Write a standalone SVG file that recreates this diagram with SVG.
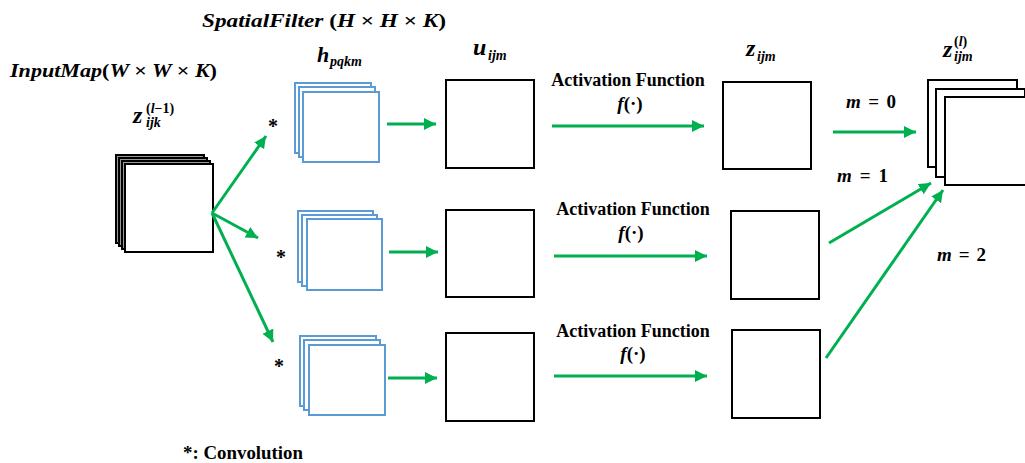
<svg xmlns="http://www.w3.org/2000/svg" width="1025" height="463" viewBox="0 0 1025 463">
<style>
.blk{fill:#fff;stroke:#000;stroke-width:2}
.bk{fill:#999;stroke:#000;stroke-width:2}
.blu{fill:#fff;stroke:#5B9BD5;stroke-width:2}
.arr{stroke:#00B050;stroke-width:3;fill:none;marker-end:url(#ah)}
.t{font-family:"Liberation Serif","Times New Roman",serif;font-weight:bold;fill:#000}
.mi{font-family:"Liberation Serif","Times New Roman",serif;font-weight:bold;font-style:italic;fill:#000}
.up{font-style:normal}
</style>
<defs>
<marker id="ah" markerUnits="userSpaceOnUse" markerWidth="14" markerHeight="14" refX="12" refY="6" orient="auto">
<path d="M0,0 L12,6 L0,12 z" fill="#00B050"/>
</marker>
</defs>
<rect width="1025" height="463" fill="#fff"/>

<g id="labels">
<text class="mi" x="202" y="27" font-size="19" textLength="244" lengthAdjust="spacingAndGlyphs">SpatialFilter <tspan class="up">(</tspan>H <tspan class="up">×</tspan> H <tspan class="up">×</tspan> K<tspan class="up">)</tspan></text>
<text class="mi" x="10" y="77" font-size="19" textLength="207" lengthAdjust="spacingAndGlyphs">InputMap<tspan class="up">(</tspan>W <tspan class="up">×</tspan> W <tspan class="up">×</tspan> K<tspan class="up">)</tspan></text>
<text class="t" x="183" y="459" font-size="18" textLength="120" lengthAdjust="spacingAndGlyphs">*: Convolution</text>
</g>

<g id="input-map">
<text class="mi" x="133" y="123" font-size="24">z</text>
<text class="mi" x="146" y="127" font-size="14">ijk</text>
<text class="mi" x="146" y="113" font-size="14"><tspan class="up">(</tspan>l<tspan class="up">−1)</tspan></text>
<rect class="bk" x="116" y="155" width="88" height="88"/>
<rect class="bk" x="119" y="158" width="88" height="88"/>
<rect class="bk" x="122" y="161" width="88" height="88"/>
<rect class="blk" x="125" y="164" width="88" height="88"/>
</g>

<g id="filter-0">
<text class="mi" x="317" y="62" font-size="22">h</text>
<text class="mi" x="330" y="66" font-size="14">pqkm</text>
<text class="t" x="273" y="133" font-size="20" text-anchor="middle">*</text>
<rect class="blu" x="295" y="83" width="76" height="70"/>
<rect class="blu" x="299" y="87" width="76" height="70"/>
<rect class="blu" x="303" y="92" width="76" height="70"/>
</g>
<g id="filter-1">
<text class="t" x="281" y="264" font-size="20" text-anchor="middle">*</text>
<rect class="blu" x="298" y="211" width="75" height="71"/>
<rect class="blu" x="302" y="215" width="75" height="71"/>
<rect class="blu" x="307" y="219" width="75" height="71"/>
</g>
<g id="filter-2">
<text class="t" x="279" y="373" font-size="20" text-anchor="middle">*</text>
<rect class="blu" x="300" y="336" width="76" height="70"/>
<rect class="blu" x="304" y="340" width="76" height="70"/>
<rect class="blu" x="309" y="345" width="76" height="70"/>
</g>

<g id="u-0">
<text class="mi" x="473" y="55" font-size="24">u</text>
<text class="mi" x="488" y="60" font-size="14">ijm</text>
<rect class="blk" x="446" y="80" width="88" height="88"/>
</g>
<g id="u-1"><rect class="blk" x="446" y="210" width="88" height="87"/></g>
<g id="u-2"><rect class="blk" x="446" y="333" width="88" height="88"/></g>

<g id="act-0">
<text class="t" x="628" y="86" font-size="18" text-anchor="middle">Activation Function</text>
<text class="t" x="630" y="110" font-size="19" text-anchor="middle"><tspan font-style="italic">f</tspan>(·)</text>
</g>
<g id="act-1">
<text class="t" x="633" y="215" font-size="18" text-anchor="middle">Activation Function</text>
<text class="t" x="631" y="239" font-size="19" text-anchor="middle"><tspan font-style="italic">f</tspan>(·)</text>
</g>
<g id="act-2">
<text class="t" x="633" y="337" font-size="18" text-anchor="middle">Activation Function</text>
<text class="t" x="633" y="360" font-size="19" text-anchor="middle"><tspan font-style="italic">f</tspan>(·)</text>
</g>

<g id="z-0">
<text class="mi" x="746" y="56" font-size="24">z</text>
<text class="mi" x="757" y="61" font-size="14">ijm</text>
<rect class="blk" x="723" y="82" width="88" height="87"/>
</g>
<g id="z-1"><rect class="blk" x="731" y="211" width="88" height="88"/></g>
<g id="z-2"><rect class="blk" x="732" y="330" width="88" height="88"/></g>

<g id="output-map">
<text class="mi" x="943" y="57" font-size="24">z</text>
<text class="mi" x="954" y="61" font-size="14">ijm</text>
<text class="mi" x="954" y="46" font-size="14"><tspan class="up">(</tspan>l<tspan class="up">)</tspan></text>
<rect class="blk" x="928" y="80" width="89" height="87"/>
<rect class="blk" x="936" y="89" width="89" height="88"/>
<rect class="blk" x="945" y="97" width="89" height="88"/>
</g>

<g id="m-labels">
<text class="t" x="846" y="108" font-size="19" textLength="50" lengthAdjust="spacing"><tspan font-style="italic">m</tspan> = 0</text>
<text class="t" x="837" y="182" font-size="19" textLength="51" lengthAdjust="spacing"><tspan font-style="italic">m</tspan> = 1</text>
<text class="t" x="937" y="261" font-size="19" textLength="49" lengthAdjust="spacing"><tspan font-style="italic">m</tspan> = 2</text>
</g>

<g id="connectors">
<line class="arr" x1="212" y1="213" x2="266" y2="136"/>
<line class="arr" x1="212" y1="213" x2="258" y2="238"/>
<line class="arr" x1="212" y1="213" x2="273" y2="342"/>
<line class="arr" x1="387" y1="124" x2="436" y2="124"/>
<line class="arr" x1="389" y1="252" x2="438" y2="252"/>
<line class="arr" x1="388" y1="378" x2="437" y2="378"/>
<line class="arr" x1="552" y1="126" x2="704" y2="126"/>
<line class="arr" x1="554" y1="256" x2="707" y2="256"/>
<line class="arr" x1="554" y1="376" x2="707" y2="376"/>
<line class="arr" x1="833" y1="132" x2="916" y2="132"/>
<line class="arr" x1="829" y1="243" x2="931" y2="183"/>
<line class="arr" x1="826" y1="358" x2="943" y2="190"/>
</g>
</svg>
